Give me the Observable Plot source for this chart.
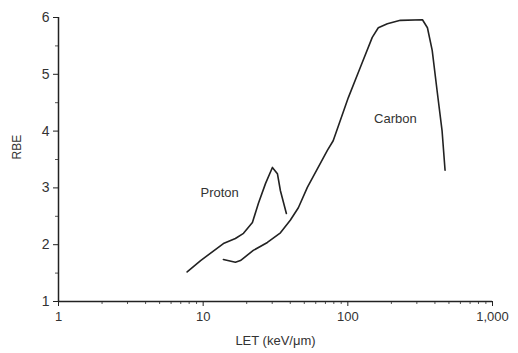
<!DOCTYPE html>
<html>
<head>
<meta charset="utf-8">
<script src="https://cdn.jsdelivr.net/npm/d3@7"></script>
<script src="https://cdn.jsdelivr.net/npm/@observablehq/plot@0.6"></script>
<style>
  html, body { margin: 0; padding: 0; background: #fff; }
  #chart svg { display: block; }
</style>
</head>
<body>
<div id="chart"></div>
<script>
// Proton curve (LET keV/um, RBE)
const protonLET = [7.75, 9.6, 13.8, 16.7, 19.0, 21.9, 24.1, 27.0, 30.1, 32.6, 34.2, 37.6];
const protonRBE = [1.52, 1.72, 2.02, 2.11, 2.20, 2.39, 2.73, 3.08, 3.36, 3.25, 2.95, 2.55];
// Carbon curve
const carbonLET = [13.8, 16.7, 18.1, 22.2, 27.8, 34.2, 40.0, 45.5, 52.5, 72.2, 79.2, 100.8, 121.9, 147.5, 162.4, 187.6, 230.8, 328, 355, 383, 414, 448, 470];
const carbonRBE = [1.74, 1.69, 1.72, 1.90, 2.04, 2.21, 2.43, 2.65, 3.01, 3.66, 3.83, 4.59, 5.12, 5.65, 5.82, 5.89, 5.95, 5.96, 5.82, 5.42, 4.71, 4.01, 3.31];
// Labels
const labelNames = ["Proton", "Carbon"];
const labelLET = [13.0, 213];
const labelRBE = [2.92, 4.22];
// Ticks
const xTicks = [1, 10, 100, 1000];
const xTickLabels = ["1", "10", "100", "1,000"];
const yTicks = [1, 2, 3, 4, 5, 6];
const yTickLabels = ["1", "2", "3", "4", "5", "6"];
const yMinor = [1.5, 2.5, 3.5, 4.5, 5.5];
const xMinor = [2,3,4,5,6,7,8,9,20,30,40,50,60,70,80,90,200,300,400,500,600,700,800,900];

const proton = protonLET.map((x, i) => ({x, y: protonRBE[i]}));
const carbon = carbonLET.map((x, i) => ({x, y: carbonRBE[i]}));
const labels = labelNames.map((t, i) => ({t, x: labelLET[i], y: labelRBE[i]}));

const ink = "#222";
const font = "'Liberation Sans', 'DejaVu Sans', sans-serif";

const chart = Plot.plot({
  width: 518,
  height: 353,
  marginLeft: 58,
  marginRight: 26,
  marginTop: 17,
  marginBottom: 52,
  style: {fontFamily: font, fontSize: "13px", color: "#333", background: "#fff"},
  x: {type: "log", domain: [1, 1000]},
  y: {domain: [1, 6]},
  marks: [
    Plot.axisX(xTicks, {tickSize: 5, tickPadding: 5, tickFormat: (d) => xTickLabels[xTicks.indexOf(d)], label: null, stroke: ink, fontSize: 13}),
    Plot.axisX(xMinor, {tickSize: 3, tickFormat: () => "", label: null, stroke: "#555"}),
    Plot.axisY(yTicks, {tickSize: 5, tickPadding: 4, tickFormat: (d) => yTickLabels[yTicks.indexOf(d)], label: null, stroke: ink, fontSize: 14}),
    Plot.axisY(yMinor, {tickSize: 3, tickFormat: () => "", label: null, stroke: "#555"}),
    Plot.ruleX([1], {stroke: ink, strokeWidth: 1.5}),
    Plot.ruleY([1], {stroke: ink, strokeWidth: 1.5}),
    Plot.line(proton, {x: "x", y: "y", stroke: ink, strokeWidth: 1.6, curve: "linear"}),
    Plot.line(carbon, {x: "x", y: "y", stroke: ink, strokeWidth: 1.6, curve: "linear"}),
    Plot.text(labels, {x: "x", y: "y", text: "t", fontSize: 13, fill: "#333"}),
    Plot.text(["LET (keV/μm)"], {frameAnchor: "bottom", dy: 43, fontSize: 13, fill: "#333"}),
    Plot.text(["RBE"], {frameAnchor: "left", dx: -41, rotate: -90, fontSize: 12, fill: "#333"})
  ]
});
document.getElementById("chart").appendChild(chart);
</script>
</body>
</html>
